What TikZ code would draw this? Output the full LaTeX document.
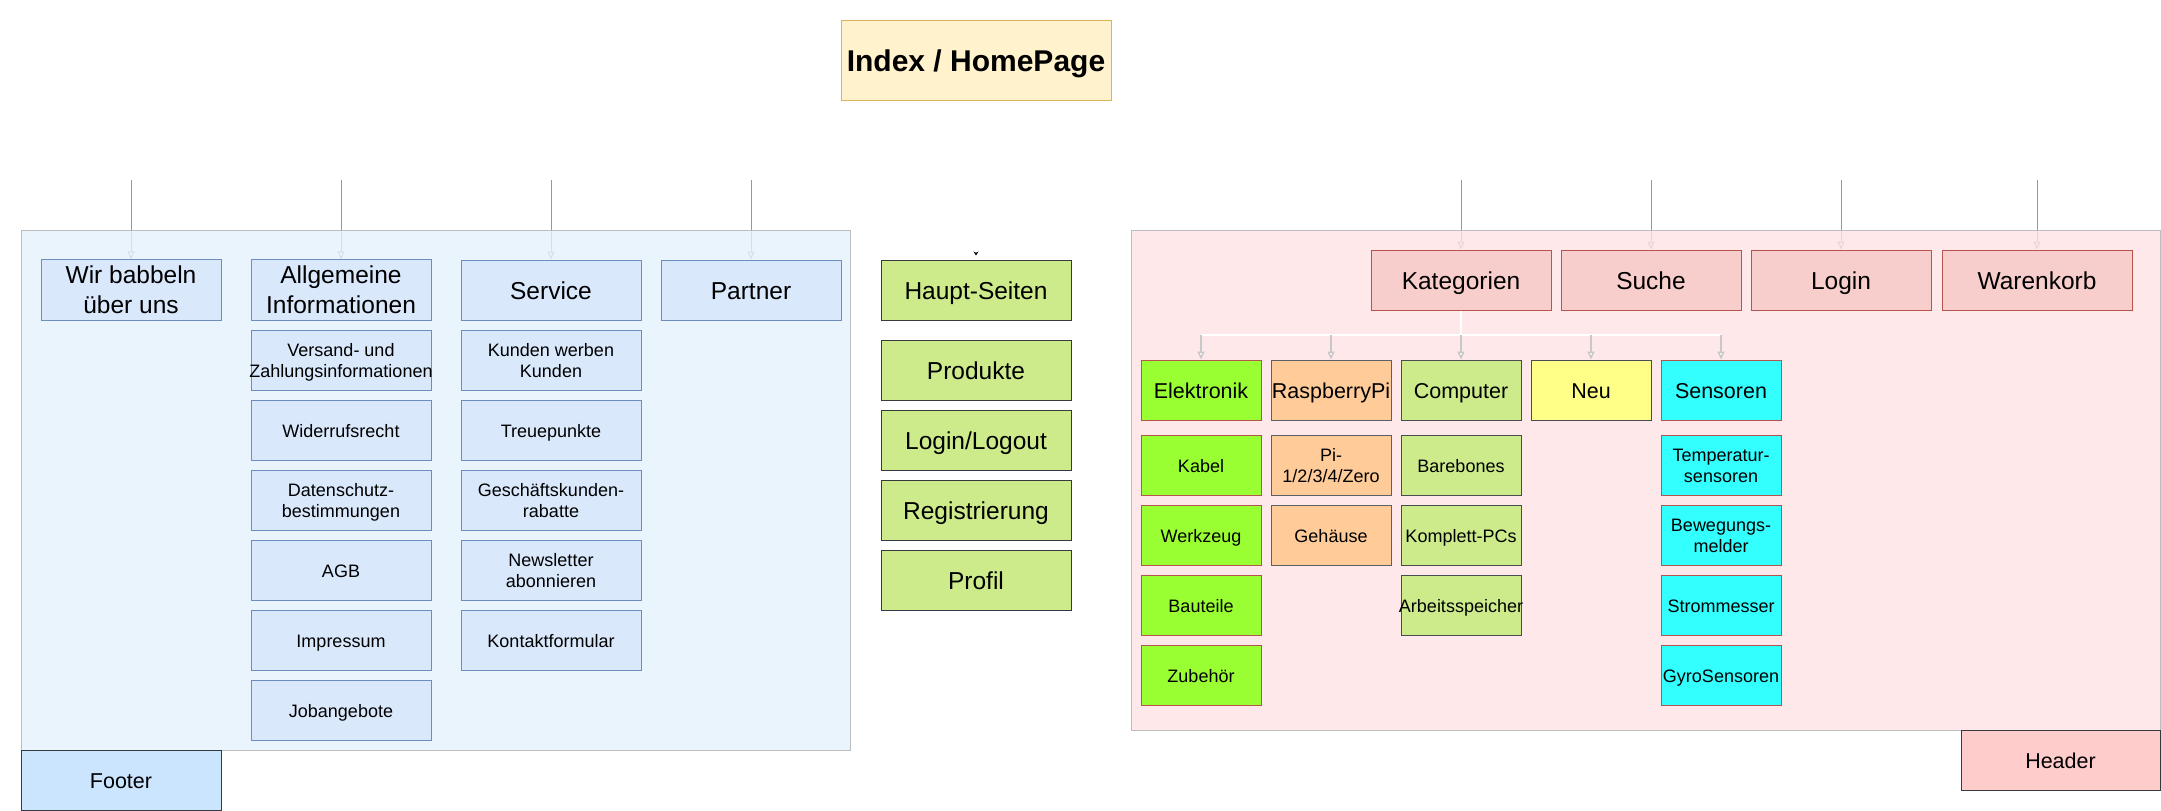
\documentclass[tikz,border=0pt]{standalone}
\usepackage{fontspec}
\setmainfont{Liberation Sans}
\usetikzlibrary{arrows.meta}

\definecolor{homefill}{HTML}{FFF2CC}
\definecolor{homedraw}{HTML}{D6B656}
\definecolor{infofill}{HTML}{DAE8FC}
\definecolor{infodraw}{HTML}{6C8EBF}
\definecolor{footfill}{HTML}{CCE5FF}
\definecolor{darkline}{HTML}{36393D}
\definecolor{pagefill}{HTML}{CDEB8B}
\definecolor{headfill}{HTML}{FFCCCC}
\definecolor{navfill}{HTML}{F8CECC}
\definecolor{navdraw}{HTML}{B85450}
\definecolor{elekfill}{HTML}{99FF33}
\definecolor{raspfill}{HTML}{FFCC99}
\definecolor{neufill}{HTML}{FFFF88}
\definecolor{sensfill}{HTML}{33FFFF}
\definecolor{footarea}{HTML}{E5F1FD}
\definecolor{headarea}{HTML}{FFE2E3}
\definecolor{areadraw}{HTML}{BDBDBD}
\definecolor{edgegray}{HTML}{999999}
\definecolor{dropgray}{HTML}{C8C8C8}

% struts that give every label a fixed extent around its last baseline
\newcommand\topstrut{\rule{0pt}{1.0465em}}
\newcommand\tallstrut{\rule{0pt}{2.2em}}
\newcommand\bottomstrut{\rule[-0.2535em]{0pt}{0.2535em}}

\pgfdeclarelayer{edges}
\pgfdeclarelayer{areas}
\pgfsetlayers{edges,areas,main}

\begin{document}
\begin{tikzpicture}[x=1pt,y=-1pt,
  base/.style={rectangle, inner xsep=-5pt, inner ysep=0pt, line width=1pt,
    align=center, text=black, minimum height=60pt,
    execute at begin node=\topstrut, execute at end node=\bottomstrut},
  twolines/.style={execute at begin node=\tallstrut},
  bigtext/.style={font=\fontsize{24.5pt}{30pt}\selectfont},
  midtext/.style={font=\fontsize{21.5pt}{25.8pt}\selectfont},
  smalltext/.style={font=\fontsize{18pt}{21pt}\selectfont},
  homebox/.style={base, fill=homefill, draw=homedraw, minimum width=270pt,
    minimum height=80pt, font=\fontsize{30pt}{36pt}\selectfont\bfseries},
  infomain/.style={base, bigtext, fill=infofill, draw=infodraw, minimum width=180pt},
  infosub/.style={base, smalltext, fill=infofill, draw=infodraw, minimum width=180pt},
  footbox/.style={base, midtext, fill=footfill, draw=darkline, minimum width=200pt},
  headbox/.style={base, midtext, fill=headfill, draw=darkline, minimum width=199pt},
  pagebox/.style={base, bigtext, fill=pagefill, draw=darkline, minimum width=190pt},
  navbox/.style={base, bigtext, fill=navfill, draw=navdraw, minimum width=180pt},
  catbox/.style={base, midtext, minimum width=120pt},
  catsub/.style={base, smalltext, minimum width=120pt},
  elek/.style={fill=elekfill, draw=navdraw},
  rasp/.style={fill=raspfill, draw=darkline!80},
  comp/.style={fill=pagefill, draw=darkline!90},
  neu/.style={fill=neufill, draw=darkline!90},
  sens/.style={fill=sensfill, draw=navdraw},
  area/.style={line width=1pt, draw=areadraw, fill opacity=0.8, draw opacity=1},
  opentip/.style={-{Triangle[length=8pt,width=7pt,fill=white]}},
  topedge/.style={draw=edgegray, line width=1pt, opentip},
  dropedge/.style={draw=dropgray, line width=1.5pt, opentip},
  busedge/.style={draw=white, line width=1.5pt},
]
\useasboundingbox (0,0) rectangle (2161,811);

% ---------- title ----------
\node[homebox] (home) at (976,60) {Index / HomePage};

% ---------- footer area ----------
\node[infomain, twolines] (wir)  at (131,290) {Wir babbeln\\über uns};
\node[infomain, twolines] (allg) at (341,290) {Allgemeine\\Informationen};
\node[infomain] (service) at (551,290) {Service};
\node[infomain] (partner) at (751,290) {Partner};

\node[infosub, twolines] (versand) at (341,360) {Versand- und\\Zahlungsinformationen};
\node[infosub] (widerruf) at (341,430) {Widerrufsrecht};
\node[infosub, twolines] (daten)   at (341,500) {Datenschutz-\\bestimmungen};
\node[infosub] (agb)      at (341,570) {AGB};
\node[infosub] (impr)     at (341,640) {Impressum};
\node[infosub] (jobs)     at (341,710) {Jobangebote};

\node[infosub, twolines] (werben)  at (551,360) {Kunden werben\\Kunden};
\node[infosub] (treue)    at (551,430) {Treuepunkte};
\node[infosub, twolines] (rabatt)  at (551,500) {Geschäftskunden-\\rabatte};
\node[infosub, twolines] (news)    at (551,570) {Newsletter\\abonnieren};
\node[infosub] (kontakt)  at (551,640) {Kontaktformular};

\node[footbox] (footer) at (121,780) {Footer};

% ---------- main pages ----------
\node[pagebox] (haupt)  at (976,290) {Haupt-Seiten};
\node[pagebox] (prod)   at (976,370) {Produkte};
\node[pagebox] (logio)  at (976,440) {Login/Logout};
\node[pagebox] (regist) at (976,510) {Registrierung};
\node[pagebox] (profil) at (976,580) {Profil};

% ---------- header area ----------
\node[navbox] (kat)   at (1461,280) {Kategorien};
\node[navbox] (suche) at (1651,280) {Suche};
\node[navbox] (login) at (1841,280) {Login};
\node[navbox, minimum width=190pt] (korb) at (2037,280) {Warenkorb};

\node[catbox, elek] (elektro) at (1201,390) {Elektronik};
\node[catbox, rasp] (raspi)   at (1331,390) {RaspberryPi};
\node[catbox, comp] (comput)  at (1461,390) {Computer};
\node[catbox, neu]  (neu)     at (1591,390) {Neu};
\node[catbox, sens] (sensor)  at (1721,390) {Sensoren};

\node[catsub, elek] (kabel)    at (1201,465) {Kabel};
\node[catsub, elek] (werkzeug) at (1201,535) {Werkzeug};
\node[catsub, elek] (bauteile) at (1201,605) {Bauteile};
\node[catsub, elek] (zubehoer) at (1201,675) {Zubehör};

\node[catsub, rasp, twolines] (pimodel) at (1331,465) {Pi-\\1/2/3/4/Zero};
\node[catsub, rasp] (gehaeuse) at (1331,535) {Gehäuse};

\node[catsub, comp] (bare)     at (1461,465) {Barebones};
\node[catsub, comp] (komplett) at (1461,535) {Komplett-PCs};
\node[catsub, comp] (ram)      at (1461,605) {Arbeitsspeicher};

\node[catsub, sens, twolines] (temp)  at (1721,465) {Temperatur-\\sensoren};
\node[catsub, sens, twolines] (beweg) at (1721,535) {Bewegungs-\\melder};
\node[catsub, sens] (strom)  at (1721,605) {Strommesser};
\node[catsub, sens] (gyro)   at (1721,675) {GyroSensoren};

\node[headbox] (header) at (2060.5,760) {Header};

% ---------- area backgrounds ----------
\begin{pgfonlayer}{areas}
  \path[area, fill=footarea] (21,230) rectangle (850,750);
  \path[area, fill=headarea] (1131,230) rectangle (2160,730);
\end{pgfonlayer}

% ---------- incoming links from above ----------
\coordinate (inWir)   at (131,180);
\coordinate (inAllg)  at (341,180);
\coordinate (inServ)  at (551,180);
\coordinate (inPart)  at (751,180);
\coordinate (inKat)   at (1461,180);
\coordinate (inSuche) at (1651,180);
\coordinate (inLogin) at (1841,180);
\coordinate (inKorb)  at (2037,180);

\begin{pgfonlayer}{edges}
  \draw[topedge] (inWir)   -- (wir.north);
  \draw[topedge] (inAllg)  -- (allg.north);
  \draw[topedge] (inServ)  -- (service.north);
  \draw[topedge] (inPart)  -- (partner.north);
  \draw[topedge] (inKat)   -- (kat.north);
  \draw[topedge] (inSuche) -- (suche.north);
  \draw[topedge] (inLogin) -- (login.north);
  \draw[topedge] (inKorb)  -- (korb.north);
\end{pgfonlayer}

% ---------- home page to main pages ----------
\draw[white, line width=1pt, shorten >=4pt,
  -{Stealth[black,length=4pt,width=5pt]}] (home.south) -- (haupt.north);

% ---------- category tree ----------
\coordinate (bus) at (1461,335);
\draw[busedge] (kat.south) -- (kat.south |- bus);
\draw[busedge] (elektro.north |- bus) -- (sensor.north |- bus);
\foreach \c in {elektro, raspi, comput, neu, sensor}
  \draw[dropedge] (\c.north |- bus) -- (\c.north);
\end{tikzpicture}
\end{document}
